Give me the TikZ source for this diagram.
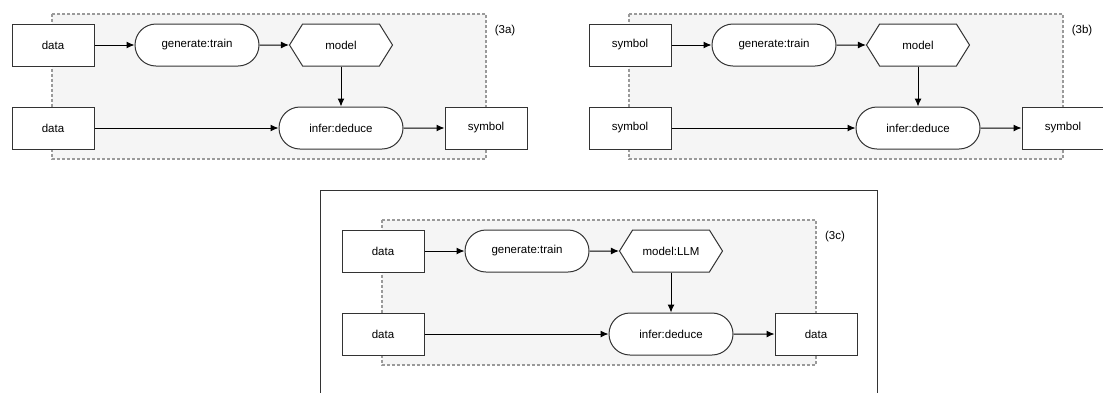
\documentclass[tikz,border=0pt]{standalone}
\usepackage{fontspec}
\setmainfont{Liberation Sans}
\usepackage{xcolor}
\usepackage{tikz}
\usetikzlibrary{
	arrows.meta,    % punte delle frecce
	shapes.misc,    % rettangoli arrotondati
	shapes.symbols  % esagono (signal)
}

\definecolor{bordo}{HTML}{333333}
\definecolor{tratteggio}{HTML}{9A9A9A}
\definecolor{sfondo}{HTML}{F5F5F5}

\tikzset{
	blocco/.style={draw=bordo, fill=white, line width=1pt, minimum width=82pt,
		minimum height=42pt, inner sep=0pt, font=\fontsize{11.5}{13}\selectfont},
	processo/.style={blocco, rounded rectangle, minimum width=124pt},
	esagono/.style={blocco, signal, signal to=east and west, signal pointer angle=116,
		minimum width=103pt},
	freccia/.style={->, draw=black, line width=1pt},
	riquadro/.style={draw=tratteggio, fill=sfondo, dash pattern=on 3pt off 2pt, line width=1.2pt},
	etichetta/.style={font=\fontsize{11.5}{13}\selectfont}
}

% #1 spostamento, #2 prefisso, #3 ingresso alto, #4 ingresso basso,
% #5 modello, #6 uscita, #7 etichetta del pannello
\newcommand{\pannello}[7]{%
	\begin{scope}[shift={(#1)}]
		% --- Riquadro tratteggiato ---
		\path[riquadro] (52,14) rectangle (486,159);
		\node[etichetta] (#2lab) at (505,31) {#7};
		% --- Blocchi ---
		\node[blocco] (#2in1) at (53,45) {#3};
		\node[processo] (#2gen) at (197,45) {generate:train};
		\node[esagono] (#2mod) at (341,45) {#5};
		\node[blocco] (#2in2) at (53,128) {#4};
		\node[processo] (#2inf) at (341,128) {infer:deduce};
		\node[blocco] (#2out) at (486,128) {#6};
		% --- Frecce ---
		\draw[freccia] (#2in1) -- (#2gen);
		\draw[freccia] (#2gen) -- (#2mod.west);
		\draw[freccia] (#2mod.south) -- (#2inf.north);
		\draw[freccia] (#2in2) -- (#2inf);
		\draw[freccia] (#2inf) -- (#2out);
	\end{scope}}

\begin{document}
\begin{tikzpicture}[x=1pt, y=-1pt, >={Latex[length=8pt,width=7pt]}]
	\useasboundingbox (0,0) rectangle (1103,392);
	
	% --- Pannelli in alto ---
	\pannello{0,0}{a}{data}{data}{model}{symbol}{(3a)}
	\pannello{577,0}{b}{symbol}{symbol}{model}{symbol}{(3b)}
	
	% --- Cornice del pannello in basso ---
	\draw[draw=bordo, line width=1pt] (320,400) -- (320,190) -- (877,190) -- (877,400);
	\pannello{330,206}{c}{data}{data}{model:LLM}{data}{(3c)}
\end{tikzpicture}
\end{document}
